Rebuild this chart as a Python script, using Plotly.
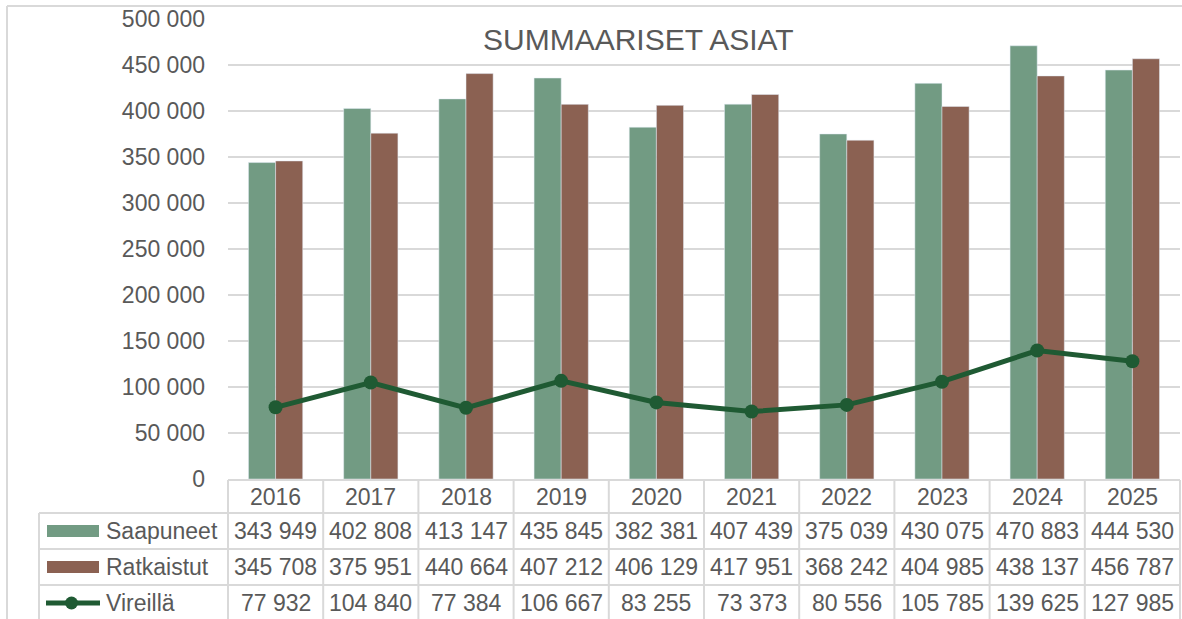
import plotly.graph_objects as go

years = ["2016", "2017", "2018", "2019", "2020", "2021", "2022", "2023", "2024", "2025"]
saapuneet = [343949, 402808, 413147, 435845, 382381, 407439, 375039, 430075, 470883, 444530]
ratkaistut = [345708, 375951, 440664, 407212, 406129, 417951, 368242, 404985, 438137, 456787]
vireilla = [77932, 104840, 77384, 106667, 83255, 73373, 80556, 105785, 139625, 127985]
series_names = ["Saapuneet", "Ratkaistut", "Vireillä"]
title_text = "SUMMAARISET ASIAT"
y_ticks = list(range(0, 500001, 50000))

C_GREEN = "#729B83"
C_BROWN = "#8B6152"
C_LINE = "#1F5A33"
C_GRID = "#D9D9D9"
C_TEXT = "#595959"
FONT = "Liberation Sans, Arial, sans-serif"

W, H = 1182, 619
PL, PR, PT, PB = 228, 1180, 19, 479  # plot area in px


def px(xp):
    return (xp - PL) / (PR - PL)


def py(yp):
    return (PB - yp) / (PB - PT)


def fmt(v):
    return f"{v:,}".replace(",", " ")


fig = go.Figure()
fig.add_trace(go.Bar(x=years, y=saapuneet, name=series_names[0], marker_color=C_GREEN))
fig.add_trace(go.Bar(x=years, y=ratkaistut, name=series_names[1], marker_color=C_BROWN))
fig.add_trace(go.Scatter(x=years, y=vireilla, name=series_names[2], mode="lines+markers",
                         line=dict(color=C_LINE, width=5),
                         marker=dict(size=14, color=C_LINE)))

shapes = []
annotations = []
line_style = dict(color=C_GRID, width=2)

# outer chart border (left & top)
shapes.append(dict(type="line", xref="paper", yref="paper", x0=px(7), x1=px(7), y0=py(6), y1=py(H + 5), line=line_style))
shapes.append(dict(type="line", xref="paper", yref="paper", x0=px(7), x1=px(W + 5), y0=py(6), y1=py(6), line=line_style))

# table rows
row_tops = [480, 513, 549, 585]
row_h = [33, 36, 36, 36]
shapes.append(dict(type="line", xref="paper", yref="paper", x0=px(PL), x1=px(PR), y0=py(480), y1=py(480), line=line_style))
for yy in row_tops[1:]:
    shapes.append(dict(type="line", xref="paper", yref="paper", x0=px(39), x1=px(PR), y0=py(yy), y1=py(yy), line=line_style))
# vertical lines
n = len(years)
for i in range(n + 1):
    shapes.append(dict(type="line", xref="paper", yref="paper", x0=i / n, x1=i / n, y0=py(480), y1=py(H + 5), line=line_style))
shapes.append(dict(type="line", xref="paper", yref="paper", x0=px(39), x1=px(39), y0=py(513), y1=py(H + 5), line=line_style))

font = dict(family=FONT, size=23, color=C_TEXT)
rows = [saapuneet, ratkaistut, vireilla]
# header
hc = row_tops[0] + row_h[0] / 2
for i, yv in enumerate(years):
    annotations.append(dict(x=i, xref="x", y=py(hc), yref="paper", text=yv, showarrow=False,
                            font=font, xanchor="center", yanchor="middle"))
for r, vals in enumerate(rows):
    c = row_tops[r + 1] + row_h[r + 1] / 2
    for i, v in enumerate(vals):
        annotations.append(dict(x=i, xref="x", y=py(c), yref="paper", text=fmt(v), showarrow=False,
                                font=font, xanchor="center", yanchor="middle"))
    annotations.append(dict(x=px(104), xref="paper", y=py(c), yref="paper", text=series_names[r],
                            showarrow=False, font=font, xanchor="left", yanchor="middle"))
    if r < 2:
        col = [C_GREEN, C_BROWN][r]
        shapes.append(dict(type="rect", xref="paper", yref="paper", x0=px(47), x1=px(99),
                           y0=py(c - 6), y1=py(c + 6), fillcolor=col, line=dict(width=0)))
    else:
        shapes.append(dict(type="line", xref="paper", yref="paper", x0=px(46), x1=px(100),
                           y0=py(c), y1=py(c), line=dict(color=C_LINE, width=5)))
        shapes.append(dict(type="circle", xref="paper", yref="paper", x0=px(65), x1=px(78),
                           y0=py(c - 6.5), y1=py(c + 6.5), fillcolor=C_LINE, line=dict(width=0)))

# title
annotations.append(dict(x=px(638), xref="paper", y=py(40), yref="paper", text=title_text, showarrow=False,
                        font=dict(family=FONT, size=30, color=C_TEXT), xanchor="center", yanchor="middle"))

fig.update_layout(
    width=W, height=H,
    margin=dict(l=PL, r=W - PR, t=PT, b=H - PB, pad=0, autoexpand=False),
    paper_bgcolor="white", plot_bgcolor="white",
    barmode="group", bargap=0.43, bargroupgap=0,
    showlegend=False,
    separators=". ",
    shapes=shapes, annotations=annotations,
    xaxis=dict(type="category", range=[-0.5, n - 0.5], autorange=False,
               showticklabels=False, showgrid=False, zeroline=False, showline=False,
               fixedrange=True, automargin=False),
    yaxis=dict(range=[0, 500000], autorange=False, tickvals=y_ticks, ticktext=[fmt(v) for v in y_ticks],
               showgrid=True, gridcolor=C_GRID, gridwidth=1.5, zeroline=False, showline=False,
               automargin=False,
               tickfont=dict(family=FONT, size=23, color=C_TEXT), ticklabelstandoff=22),
)

fig.write_html("out.html", config={"displayModeBar": False},
               post_script="document.body.style.margin='0';document.body.style.overflow='hidden';")
